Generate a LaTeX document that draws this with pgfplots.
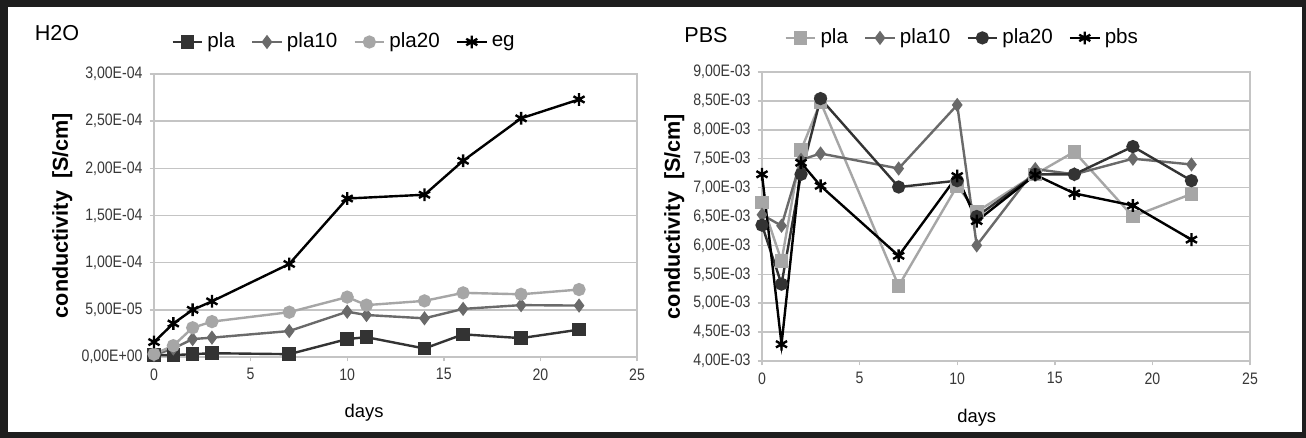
\documentclass[border=0pt]{standalone}
\usepackage{fontspec}
\setmainfont{Liberation Sans}
\newfontfamily\narrow[FakeStretch=0.85]{Liberation Sans}
\usepackage{pgfplots}
\pgfplotsset{compat=1.18}
\definecolor{dk}{HTML}{333333}
\definecolor{md}{HTML}{6A6A6A}
\definecolor{lt}{HTML}{A6A6A6}
\definecolor{gridc}{HTML}{C4C4C4}
\definecolor{tickc}{HTML}{383838}
\definecolor{frame}{HTML}{1E1E1E}
\pgfplotsset{
  myax/.style={
    scale only axis,
    xmin=0, xmax=25, xtick={0,5,10,15,20,25},
    axis line style={draw=gridc, line width=0.7pt},
    ymajorgrids, grid style={gridc, line width=0.7pt},
    tick style={gridc, line width=0.7pt},
    tick align=outside, major tick length=2.2pt, tick pos=left,
    ticklabel style={font=\narrow\fontsize{8.3}{9}\selectfont, text=tickc},
    /pgf/number format/assume math mode=true,
    scaled y ticks=false,
    clip=false,
    legend style={draw=none, fill=none, font=\fontsize{10.3}{12}\selectfont,
      /tikz/every even column/.append style={column sep=6pt}},
    legend image code/.code={
      \draw[mark repeat=2,mark phase=2,#1] plot coordinates {(0cm,0cm) (0.26cm,0cm) (0.52cm,0cm)};},
    legend columns=4,
    legend cell align=left,
    xlabel=days,
    xlabel style={font=\fontsize{9.2}{11}\selectfont, anchor=center},
    ylabel={conductivity\ \ [S/cm]},
    ylabel style={font=\bfseries\fontsize{10.8}{12}\selectfont, anchor=center, rotate=0},
  },
  ln/.style={line width=1.2pt, mark options={solid}},
}
\begin{document}
\begin{tikzpicture}
\useasboundingbox (0,0) rectangle (653pt,219pt);
\fill[frame] (0,0) rectangle (653pt,219pt);
\fill[white] (4pt,3pt) rectangle (651pt,215.5pt);

\begin{axis}[myax,
  at={(77pt,40.5pt)}, anchor=south west,
  width=241.5pt, height=141.5pt,
  ymin=0, ymax=3e-4,
  ytick={0,5e-5,1e-4,1.5e-4,2e-4,2.5e-4,3e-4},
  yticklabels={{0,00E+00},{5,00E-05},{1,00E-04},{1,50E-04},{2,00E-04},{2,50E-04},{3,00E-04}},
  xlabel style={at={(axis description cs:0.435,-0.198)}},
  ylabel style={at={(axis description cs:-0.19,0.5)}},
  legend style={at={(axis description cs:0.023,1.113)}, anchor=west},
]
\addplot[ln, color=dk, mark=square*, mark size=2.8pt] coordinates {
(0,2e-6) (1,2e-6) (2,3e-6) (3,4e-6) (7,3e-6) (10,19e-6) (11,21e-6) (14,9e-6) (16,24e-6) (19,20e-6) (22,29e-6)};
\addlegendentry{pla}
\addplot[ln, color=md, mark=diamond*, mark size=2.6pt] coordinates {
(0,2e-6) (1,9e-6) (2,19e-6) (3,20.5e-6) (7,27.5e-6) (10,48e-6) (11,44.5e-6) (14,41e-6) (16,51e-6) (19,55e-6) (22,54.5e-6)};
\addlegendentry{pla10}
\addplot[ln, color=lt, mark=*, mark size=2.7pt] coordinates {
(0,3e-6) (1,12e-6) (2,31e-6) (3,37.5e-6) (7,47.5e-6) (10,63.5e-6) (11,55e-6) (14,59.5e-6) (16,68e-6) (19,66.5e-6) (22,71.5e-6)};
\addlegendentry{pla20}
\addplot[ln, color=black, mark=asterisk, mark size=3.2pt] coordinates {
(0,15.8e-6) (1,35.5e-6) (2,50e-6) (3,59e-6) (7,98.6e-6) (10,168e-6) (14,172e-6) (16,208e-6) (19,253e-6) (22,273e-6)};
\addlegendentry{eg}
\end{axis}

\begin{axis}[myax,
  at={(381pt,38.5pt)}, anchor=south west,
  width=244pt, height=144.5pt,
  ymin=4e-3, ymax=9e-3,
  ytick={4e-3,4.5e-3,5e-3,5.5e-3,6e-3,6.5e-3,7e-3,7.5e-3,8e-3,8.5e-3,9e-3},
  yticklabels={{4,00E-03},{4,50E-03},{5,00E-03},{5,50E-03},{6,00E-03},{6,50E-03},{7,00E-03},{7,50E-03},{8,00E-03},{8,50E-03},{9,00E-03}},
  xlabel style={at={(axis description cs:0.44,-0.197)}},
  ylabel style={at={(axis description cs:-0.18,0.5)}},
  legend style={at={(axis description cs:0.033,1.118)}, anchor=west},
]
\addplot[ln, color=lt, mark=square*, mark size=2.8pt] coordinates {
(0,6.74e-3) (1,5.73e-3) (2,7.65e-3) (3,8.48e-3) (7,5.30e-3) (10,7.03e-3) (11,6.58e-3) (14,7.23e-3) (16,7.62e-3) (19,6.50e-3) (22,6.89e-3)};
\addlegendentry{pla}
\addplot[ln, color=md, mark=diamond*, mark size=2.6pt] coordinates {
(0,6.53e-3) (1,6.34e-3) (2,7.48e-3) (3,7.59e-3) (7,7.33e-3) (10,8.43e-3) (11,6.00e-3) (14,7.32e-3) (16,7.23e-3) (19,7.50e-3) (22,7.40e-3)};
\addlegendentry{pla10}
\addplot[ln, color=dk, mark=*, mark size=2.7pt] coordinates {
(0,6.35e-3) (1,5.33e-3) (2,7.23e-3) (3,8.54e-3) (7,7.01e-3) (10,7.12e-3) (11,6.50e-3) (14,7.23e-3) (16,7.23e-3) (19,7.71e-3) (22,7.12e-3)};
\addlegendentry{pla20}
\addplot[ln, color=black, mark=asterisk, mark size=3.2pt] coordinates {
(0,7.23e-3) (1,4.29e-3) (2,7.43e-3) (3,7.03e-3) (7,5.82e-3) (10,7.20e-3) (11,6.42e-3) (14,7.22e-3) (16,6.90e-3) (19,6.69e-3) (22,6.10e-3)};
\addlegendentry{pbs}
\end{axis}

\node[font=\fontsize{10.8}{12}\selectfont, anchor=center] at (28.5pt,202.5pt) {H2O};
\node[font=\fontsize{10.8}{12}\selectfont, anchor=center] at (353pt,201.5pt) {PBS};
\end{tikzpicture}
\end{document}
